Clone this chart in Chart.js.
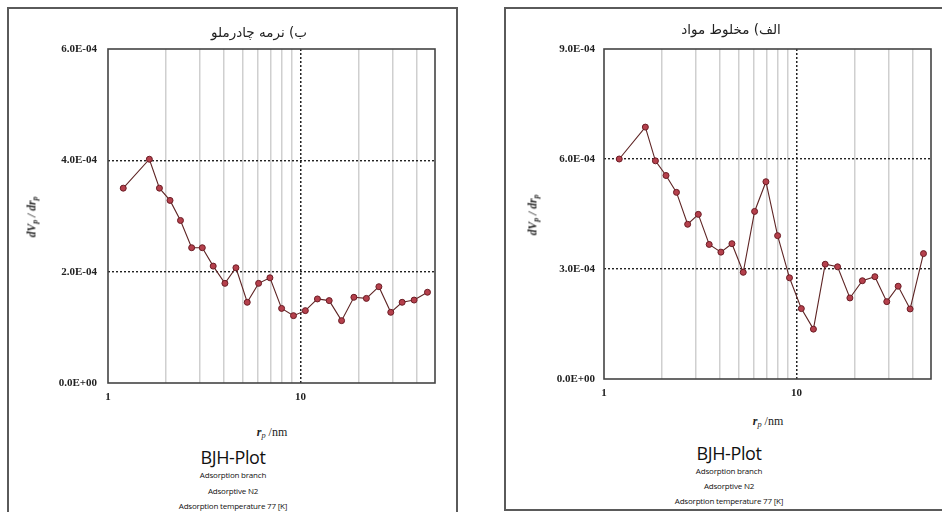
<!DOCTYPE html>
<html>
<head>
<meta charset="utf-8">
<title>BJH-Plot</title>
<script src="https://cdn.jsdelivr.net/npm/chart.js@4.4.1/dist/chart.umd.min.js"></script>
<style>
  body { margin:0; background:#fff; width:942px; height:512px; overflow:hidden; position:relative; font-family:"Liberation Serif", serif; color:#222; }
  .box { position:absolute; border:2px solid #5a5a5a; box-sizing:border-box; }
  canvas { position:absolute; }
  .lbl { position:absolute; transform:translate(-50%,-50%); white-space:nowrap; line-height:1; }
  .ttl { font-family:"DejaVu Sans", sans-serif; font-size:13.5px; color:#222; }
  .ytl { font-style:italic; font-weight:bold; font-size:11.5px; transform:translate(-50%,-50%) rotate(-90deg); }
  .xtl { font-style:italic; font-size:12px; }
  .xtl span { font-style:normal; }
  .bjh { font-family:"Open Sans", sans-serif; font-weight:500; font-size:18px; color:#111; letter-spacing:-0.4px; }
  .sub { font-family:"Open Sans", sans-serif; font-size:8px; color:#111; letter-spacing:-0.2px; }
  sub { font-size:70%; vertical-align:-2px; }
</style>
</head>
<body>

<!-- left card: ب) نرمه چادرملو -->
<div class="box" style="left:7px; top:7px; width:451px; height:530px;"></div>
<canvas id="leftChart" width="449" height="400" style="left:8px; top:8px;"></canvas>
<div class="lbl ttl" dir="rtl" style="left:259px; top:33px;">ب) نرمه چادرملو</div>
<div class="lbl ytl" style="left:33px; top:217px;">dV<sub>p</sub> / dr<sub>p</sub></div>
<div class="lbl xtl" style="left:272px; top:433px;"><b>r</b><sub>p</sub> <span>/nm</span></div>
<div class="lbl bjh" style="left:233px; top:457px;">BJH-Plot</div>
<div class="lbl sub" style="left:233px; top:475px;">Adsorption branch</div>
<div class="lbl sub" style="left:233px; top:491px;">Adsorptive N2</div>
<div class="lbl sub" style="left:233px; top:506px;">Adsorption temperature 77 [K]</div>

<!-- right card: الف) مخلوط مواد -->
<div class="box" style="left:504px; top:7px; width:460px; height:504px;"></div>
<canvas id="rightChart" width="437" height="400" style="left:505px; top:8px;"></canvas>
<div class="lbl ttl" dir="rtl" style="left:731px; top:30px;">الف) مخلوط مواد</div>
<div class="lbl ytl" style="left:534px; top:215px;">dV<sub>p</sub> / dr<sub>p</sub></div>
<div class="lbl xtl" style="left:768px; top:422px;"><b>r</b><sub>p</sub> <span>/nm</span></div>
<div class="lbl bjh" style="left:729px; top:453px;">BJH-Plot</div>
<div class="lbl sub" style="left:729px; top:471px;">Adsorption branch</div>
<div class="lbl sub" style="left:729px; top:486px;">Adsorptive N2</div>
<div class="lbl sub" style="left:729px; top:501px;">Adsorption temperature 77 [K]</div>

<script>
// pore radius r_p (nm), same for both samples
const rp = [1.2, 1.64, 1.85, 2.1, 2.38, 2.72, 3.09, 3.52, 4.05, 4.62, 5.29, 6.06, 6.94,
            7.98, 9.2, 10.6, 12.25, 14.1, 16.35, 18.95, 22.0, 25.55, 29.45, 33.75, 38.95, 45.7];

// dVp/drp
const chadormaluFines = [3.50e-4, 4.02e-4, 3.50e-4, 3.28e-4, 2.92e-4, 2.43e-4, 2.43e-4, 2.10e-4, 1.79e-4,
                         2.07e-4, 1.45e-4, 1.79e-4, 1.89e-4, 1.34e-4, 1.21e-4, 1.30e-4, 1.51e-4, 1.48e-4,
                         1.12e-4, 1.54e-4, 1.52e-4, 1.73e-4, 1.27e-4, 1.45e-4, 1.49e-4, 1.63e-4];
const mixedMaterial = [6.00e-4, 6.87e-4, 5.95e-4, 5.55e-4, 5.09e-4, 4.22e-4, 4.49e-4, 3.67e-4, 3.46e-4,
                       3.69e-4, 2.91e-4, 4.57e-4, 5.38e-4, 3.91e-4, 2.76e-4, 1.92e-4, 1.36e-4, 3.13e-4,
                       3.06e-4, 2.21e-4, 2.68e-4, 2.79e-4, 2.11e-4, 2.53e-4, 1.91e-4, 3.42e-4];

const xTicks = [1, 2, 3, 4, 5, 6, 7, 8, 9, 10, 20, 30, 40, 50];
const xLabels = [1, 10];
const yTicksLeft = [0, 2e-4, 4e-4, 6e-4];
const yTicksRight = [0, 3e-4, 6e-4, 9e-4];

// 6.0E-04 style labels
function sci(v) {
  const [m, e] = v.toExponential(1).split('e');
  const sign = e[0] === '-' ? '-' : '+';
  return m + 'E' + sign + e.replace(/[+-]/, '').padStart(2, '0');
}

// solid frame around the plot area
const frame = {
  id: 'frame',
  beforeDatasetsDraw(chart) {
    const { ctx, chartArea: a } = chart;
    ctx.save();
    ctx.strokeStyle = '#444';
    ctx.lineWidth = 1.6;
    ctx.strokeRect(a.left, a.top, a.right - a.left, a.bottom - a.top);
    ctx.restore();
  }
};

const tickFont = { family: 'Liberation Serif', size: 11, weight: 'bold' };

function makeChart(id, values, yTicks, yWidth, yPad, xHeight, padRight) {
  const yMax = yTicks[yTicks.length - 1];
  new Chart(document.getElementById(id), {
    type: 'line',
    data: {
      datasets: [{
        data: rp.map((r, i) => ({ x: r, y: values[i] })),
        borderColor: '#5e2424',
        borderWidth: 1.1,
        tension: 0,
        pointRadius: 3,
        pointBorderWidth: 1,
        pointBackgroundColor: '#b5404c',
        pointBorderColor: '#6a1c24'
      }]
    },
    options: {
      responsive: false,
      animation: false,
      layout: { padding: { top: 41, right: padRight, left: 0, bottom: 0 } },
      plugins: { legend: { display: false }, tooltip: { enabled: false } },
      scales: {
        x: {
          type: 'logarithmic',
          min: 1, max: 50,
          afterBuildTicks: s => { s.ticks = xTicks.map(v => ({ value: v })); },
          afterFit: s => { s.height = xHeight; },
          border: { display: false, dash: c => (c.tick && c.tick.value === 10 ? [2, 2] : []) },
          grid: {
            drawTicks: false,
            lineWidth: 1.5,
            color: c => {
              const v = c.tick && c.tick.value;
              if (v === 1 || v === 50) return 'rgba(0,0,0,0)';
              return v === 10 ? '#222' : '#cfcfcf';
            }
          },
          ticks: {
            autoSkip: false, maxRotation: 0, padding: 8,
            color: '#222', font: tickFont,
            callback: v => (xLabels.includes(v) ? String(v) : '')
          }
        },
        y: {
          min: 0, max: yMax,
          afterBuildTicks: s => { s.ticks = yTicks.map(v => ({ value: v })); },
          afterFit: s => { s.width = yWidth; },
          border: { display: false, dash: [2, 2] },
          grid: {
            drawTicks: false,
            lineWidth: 1.4,
            color: c => {
              const v = c.tick && c.tick.value;
              return (v === 0 || v === yMax) ? 'rgba(0,0,0,0)' : '#222';
            }
          },
          ticks: { padding: yPad, color: '#222', font: tickFont, callback: v => sci(v) }
        }
      }
    },
    plugins: [frame]
  });
}

makeChart('leftChart', chadormaluFines, yTicksLeft, 100, 11, 25, 22);
makeChart('rightChart', mixedMaterial, yTicksRight, 99, 9, 29, 11);
</script>
</body>
</html>
